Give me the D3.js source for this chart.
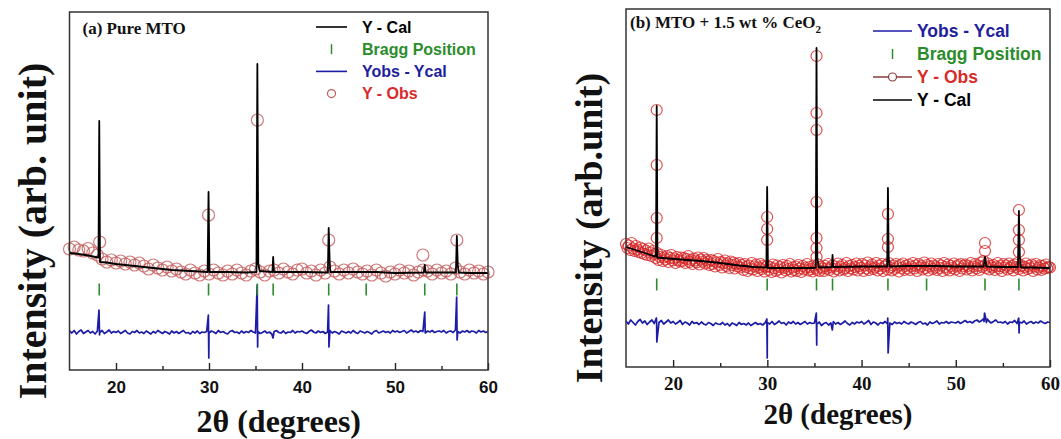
<!DOCTYPE html>
<html>
<head>
<meta charset="utf-8">
<script src="https://cdn.jsdelivr.net/npm/d3@7"></script>
<style>
  html, body { margin: 0; padding: 0; background: #fff; }
  svg { display: block; }
</style>
</head>
<body>
<svg id="chart" width="1061" height="439"></svg>
<script>
// ---------------- DATA ----------------
const xDomain = [15, 60];
const xMajorTicks = [20, 30, 40, 50, 60];
const xMinorTicks = [25, 35, 45, 55];
const xTickLabels = ["20", "30", "40", "50", "60"];

// Panel (a) Pure MTO
const calA = [[15.0,1170],[16.0,1160],[17.0,1145],[17.8,1130],[18.12,1125],[18.2,2490],[18.28,1080],[19.0,1075],[20.0,1060],[22.0,1040],[24.0,1020],[26.0,1000],[28.0,990],[29.85,980],[29.95,1780],[30.05,980],[32.0,980],[34.0,975],[35.1,980],[35.2,3060],[35.3,1060],[35.45,990],[36.82,980],[36.9,1130],[36.98,980],[40.0,980],[42.78,975],[42.87,1420],[42.97,1100],[43.05,980],[46.0,980],[48.0,980],[50.0,970],[53.1,975],[53.2,1050],[53.3,975],[56.55,975],[56.65,1340],[56.75,1050],[56.85,975],[58.0,970],[60.0,970]];
const obsStepA = 0.5;
const obsA = [1210,1230,1200,1190,1215,1170,1150,1110,1080,1100,1070,1090,1060,1080,1050,1070,1040,1010,1050,1020,1000,1030,990,1010,980,960,1000,970,950,990,960,1000,970,950,990,960,1000,970,950,990,1010,980,950,990,1000,970,1010,980,960,1000,1010,970,990,950,1000,970,1030,990,960,1000,970,1010,980,960,990,950,1000,970,940,980,960,1000,970,990,950,980,1000,990,960,1000,970,990,960,1020,980,960,1000,970,990,960,980];
const obsPeaksA = [[18.25,1280],[29.95,1550],[35.2,2500],[42.87,1300],[53.0,1150],[56.65,1300]];
const diffStepA = 0.25;
const diffA = [390,370,395,360,385,400,365,380,395,370,385,360,390,375,395,365,380,400,370,385,
375,390,365,380,395,370,360,385,375,395,370,380,365,390,375,360,385,370,395,380,
365,385,375,360,390,370,385,365,380,395,370,375,360,385,370,390,365,380,375,385,
370,390,380,365,395,375,385,370,360,385,395,375,380,365,390,370,385,375,395,380,
370,385,365,375,390,370,380,360,385,395,375,370,390,365,380,375,395,370,385,380,
390,375,365,385,400,380,370,390,375,385,365,380,395,370,385,375,360,390,380,370,
385,370,395,375,365,390,380,370,385,375,360,385,395,370,380,390,375,385,370,395,
380,390,375,385,395,370,385,400,380,390,375,395,385,370,390,380,395,375,385,390,
380,395,370,385,390,375,400,385,370,390,380,395,375,390,385,370,395,380,390,375,385];
const diffSpikesA = [[18.17,600],[18.23,350],[29.93,550],[29.98,120],[35.18,850],[35.23,230],[36.88,320],[42.85,650],[42.9,230],[53.2,580],[56.63,730],[56.68,300]];
const braggA = [18.2, 29.95, 35.2, 36.9, 42.87, 46.9, 53.2, 56.65];

// Panel (b) MTO + 1.5 wt % CeO2
const calB = [[15.0,1200],[16.0,1170],[17.0,1140],[17.9,1110],[18.18,1105],[18.26,2610],[18.34,1095],[19.5,1085],[21.5,1070],[23.0,1060],[25.0,1040],[27.0,1015],[28.5,1000],[29.9,995],[29.98,1800],[30.06,990],[32.0,990],[34.8,990],[35.14,995],[35.22,3190],[35.3,1100],[35.45,995],[36.85,1000],[36.92,1120],[36.99,1000],[40.0,1005],[42.72,1005],[42.8,1790],[42.88,1100],[42.96,1005],[45.0,1010],[47.5,1010],[50.0,1005],[52.95,1005],[53.1,1100],[53.25,1005],[55.0,1000],[56.6,1000],[56.7,1560],[56.8,1100],[56.9,995],[58.0,995],[60.0,990]];
const obsStepB = 0.15;
const obsB = [1230,1190,1215,1170,1240,1185,1160,1210,1175,1150,1195,1140,1180,1130,1165,1120,1185,1145,1110,1160,
1130,1090,1140,1070,1100,1120,1060,1095,1075,1110,1050,1090,1120,1065,1085,1040,1100,1070,1055,1095,
1060,1090,1040,1080,1110,1050,1070,1030,1085,1065,1045,1095,1025,1075,1055,1090,1035,1070,1050,1020,
1070,1030,1060,1005,1045,1080,1020,1050,995,1040,1065,1010,1035,990,1055,1020,1045,985,1030,1005,
1040,995,1020,970,1030,1000,960,1015,985,1040,975,1005,1025,960,995,1030,980,1010,955,1000,
1010,970,1000,950,1025,985,960,1015,975,1000,945,1020,990,965,1010,980,1030,955,995,970,
1005,960,1020,985,950,1010,975,995,1030,965,1000,980,955,1015,990,970,1025,960,1000,985,
960,1010,985,1030,970,995,1015,955,1005,980,1035,965,1000,1020,975,990,1040,960,1010,985,
1020,975,1000,1035,965,1010,990,1030,960,1015,985,1045,970,1005,1025,980,995,1040,965,1010,
985,1030,960,1005,1020,975,1040,995,965,1015,980,1030,1000,955,1020,990,1035,970,1010,985,
1025,970,1005,1040,985,1015,960,1030,995,1010,975,1045,990,1020,965,1005,1035,980,1015,995,
970,1030,990,1015,960,1040,1000,980,1025,965,1010,990,1035,975,1005,1020,960,1030,985,1010,
1025,975,1010,990,1040,965,1005,1030,985,1015,970,1045,1000,1060,1020,990,1035,975,1010,995,
1020,970,1005,1040,985,1010,960,1030,995,1015,975,1035,990,1010,965,1025,1000,1040,980,1005,
1015,965,1000,1035,980,1010,990,1025,960,1005,1030,975,995,1015,970,1010,985,1025,990,1000,995];
const obsPeaksB = [[18.26,2570],[18.26,2020],[18.26,1490],[18.26,1290],[29.98,1500],[29.98,1380],[29.98,1270],[35.22,3110],[35.22,2540],[35.22,2370],[35.22,1650],[35.22,1290],[35.22,1190],[35.22,1100],[42.8,1530],[42.8,1280],[42.8,1200],[53.1,1240],[53.1,1160],[56.7,1570],[56.7,1370],[56.7,1270],[56.7,1150]];
const diffStepB = 0.25;
const diffB = [460,430,470,445,420,455,475,440,460,425,450,470,435,455,445,465,430,450,470,440,
455,430,445,465,425,450,440,420,455,435,445,425,450,430,420,445,435,415,440,430,
425,445,420,435,410,440,430,415,445,425,435,420,440,415,430,445,425,435,420,440,
445,430,455,425,440,460,435,445,420,450,435,455,430,445,425,440,455,430,445,435,
440,425,450,415,435,445,420,440,455,430,445,425,440,460,435,420,445,430,450,440,
455,430,445,465,425,450,440,420,445,435,455,430,440,425,450,435,445,430,455,440,
430,450,440,425,445,455,430,440,420,450,435,445,460,430,445,440,455,435,450,445,
440,455,435,450,465,445,455,440,460,470,450,465,455,445,460,440,455,470,445,450,
440,455,430,450,445,465,435,450,440,460,430,445,455,435,450,440,460,445,435,450,445];
const diffSpikesB = [[18.22,490],[18.27,250],[29.95,480],[29.99,90],[35.2,540],[35.24,220],[36.9,370],[42.78,490],[42.82,140],[52.9,480],[53.05,540],[53.15,500],[53.35,480],[56.68,490],[56.72,340]];
const braggB = [18.26, 29.98, 35.22, 36.92, 42.8, 46.9, 53.1, 56.7];

// ---------------- DRAW ----------------
const svg = d3.select("#chart");
const yDomain = [0, 3580];
const SERIF = "'Liberation Serif', 'Times New Roman', Times, serif";
const SANS = "'Liberation Sans', Arial, Helvetica, sans-serif";

function grid(start, step, values) {
  return values.map((v, i) => [start + i * step, v]);
}

function drawPanel(p) {
  const x = d3.scaleLinear().domain(xDomain).range([p.left, p.right]);
  const y = d3.scaleLinear().domain(yDomain).range([p.bottom, p.top]);
  const g = svg.append("g");

  // observed circles
  const obs = grid(xDomain[0], p.obsStep, p.obs).concat(p.obsPeaks);
  g.append("g").selectAll("circle").data(obs).join("circle")
    .attr("cx", d => x(d[0])).attr("cy", d => y(d[1]))
    .attr("r", p.r).attr("fill", "none")
    .attr("stroke", p.obsColor).attr("stroke-width", p.obsWidth)
    .attr("stroke-opacity", p.obsOpacity);

  // calculated
  const line = d3.line().x(d => x(d[0])).y(d => y(d[1]));
  g.append("path").datum(p.cal).attr("d", line)
    .attr("fill", "none").attr("stroke", "#000").attr("stroke-width", 1.8)
    .attr("stroke-linejoin", "round");

  // difference
  const diff = grid(xDomain[0], p.diffStep, p.diff).concat(p.diffSpikes)
    .sort((a, b) => a[0] - b[0]);
  g.append("path").datum(diff).attr("d", line)
    .attr("fill", "none").attr("stroke", "#1c1ca6").attr("stroke-width", 1.7)
    .attr("stroke-linejoin", "round");

  // bragg ticks
  g.append("g").selectAll("line").data(p.bragg).join("line")
    .attr("x1", d => x(d)).attr("x2", d => x(d))
    .attr("y1", y(p.braggLevel) - 6).attr("y2", y(p.braggLevel) + 6)
    .attr("stroke", "#2e8b2e").attr("stroke-width", 1.6);

  // axes
  const axMajor = d3.axisBottom(x).tickValues(xMajorTicks)
    .tickFormat((d, i) => xTickLabels[i]).tickSize(-7).tickPadding(p.tickPad);
  const ax = g.append("g").attr("transform", `translate(0,${p.bottom})`).call(axMajor);
  ax.attr("font-family", null).attr("font-size", null);
  ax.select(".domain").remove();
  ax.selectAll("line").attr("stroke", "#222").attr("stroke-width", 1.4);
  ax.selectAll("text").style("font-family", p.tickFont).style("font-weight", "bold")
    .style("font-size", p.tickSize + "px").attr("fill", "#111");
  const axMinor = d3.axisBottom(x).tickValues(xMinorTicks).tickFormat("").tickSize(-4);
  const ax2 = g.append("g").attr("transform", `translate(0,${p.bottom})`).call(axMinor);
  ax2.select(".domain").remove();
  ax2.selectAll("line").attr("stroke", "#222").attr("stroke-width", 1.4);

  // frame
  g.append("rect").attr("x", p.left).attr("y", p.top)
    .attr("width", p.right - p.left).attr("height", p.bottom - p.top)
    .attr("fill", "none").attr("stroke", "#333").attr("stroke-width", 1.5);

  // axis titles
  g.append("text").attr("x", (p.left + p.right) / 2).attr("y", p.xTitleY)
    .attr("text-anchor", "middle").style("font-family", SERIF)
    .style("font-weight", "bold").style("font-size", p.xTitleSize + "px").attr("fill", "#111")
    .text("2θ (degrees)");
  g.append("text").attr("transform", `translate(${p.yTitleX},${p.yTitleY}) rotate(-90)`)
    .attr("text-anchor", "middle").style("font-family", SERIF)
    .style("font-weight", "bold").style("font-size", p.yTitleSize + "px").attr("fill", "#111")
    .text(p.yTitle);

  // panel title
  const t = g.append("text").attr("x", p.left + p.titleDx).attr("y", p.top + p.titleDy)
    .style("font-family", SERIF).style("font-weight", "bold").style("font-size", "17px")
    .attr("fill", "#111");
  p.title.forEach(seg => {
    const ts = t.append("tspan").text(seg.t);
    if (seg.sub) ts.style("font-size", "11px").attr("dy", 5);
  });

  // legend
  const lg = g.append("g");
  p.legend.forEach((it, i) => {
    const cy = p.legY + i * p.legGap;
    const lx0 = p.legX, lx1 = p.legX + p.legLen, cx = (lx0 + lx1) / 2;
    if (it.kind === "line" || it.kind === "lineCircle") {
      lg.append("line").attr("x1", lx0).attr("x2", lx1).attr("y1", cy).attr("y2", cy)
        .attr("stroke", it.lineColor).attr("stroke-width", 1.6);
    }
    if (it.kind === "tick") {
      lg.append("line").attr("x1", cx).attr("x2", cx).attr("y1", cy - 5).attr("y2", cy + 5)
        .attr("stroke", "#2e8b2e").attr("stroke-width", 1.5);
    }
    if (it.kind === "circle" || it.kind === "lineCircle") {
      lg.append("circle").attr("cx", cx).attr("cy", cy).attr("r", 4)
        .attr("fill", "#fff").attr("stroke", it.lineColor).attr("stroke-width", 1.2);
    }
    lg.append("text").attr("x", p.legTextX).attr("y", cy).attr("dy", "0.36em")
      .style("font-family", SANS).style("font-weight", "bold")
      .style("font-size", p.legSize + "px").attr("fill", it.color).text(it.label);
  });
}

drawPanel({
  left: 69.5, right: 488, top: 12, bottom: 370,
  obs: obsA, obsStep: obsStepA, obsPeaks: obsPeaksA, r: 6,
  obsColor: "#c25a5a", obsWidth: 1.2, obsOpacity: 0.8,
  cal: calA, diff: diffA, diffStep: diffStepA, diffSpikes: diffSpikesA,
  bragg: braggA, braggLevel: 805,
  tickFont: SANS, tickSize: 17, tickPad: 11,
  xTitleY: 432, xTitleSize: 32,
  yTitle: "Intensity (arb. unit)", yTitleX: 46, yTitleY: 231, yTitleSize: 40,
  title: [{t: "(a) Pure MTO"}], titleDx: 13, titleDy: 22,
  legX: 316, legLen: 31, legTextX: 362, legY: 27, legGap: 22.2, legSize: 16,
  legend: [
    {kind: "line", lineColor: "#000", color: "#000", label: "Y - Cal"},
    {kind: "tick", color: "#2b8c2b", label: "Bragg Position"},
    {kind: "line", lineColor: "#1c1ca6", color: "#1e1e9e", label: "Yobs - Ycal"},
    {kind: "circle", lineColor: "#c25a5a", color: "#d92a2a", label: "Y - Obs"}
  ]
});

drawPanel({
  left: 626, right: 1050, top: 9, bottom: 367,
  obs: obsB, obsStep: obsStepB, obsPeaks: obsPeaksB, r: 5.5,
  obsColor: "#d42424", obsWidth: 1.2, obsOpacity: 0.8,
  cal: calB, diff: diffB, diffStep: diffStepB, diffSpikes: diffSpikesB,
  bragg: braggB, braggLevel: 825,
  tickFont: SERIF, tickSize: 19, tickPad: 10,
  xTitleY: 424, xTitleSize: 29,
  yTitle: "Intensity (arb.unit)", yTitleX: 602, yTitleY: 228, yTitleSize: 38,
  title: [{t: "(b) MTO + 1.5 wt % CeO"}, {t: "2", sub: true}], titleDx: 4, titleDy: 19,
  legX: 873, legLen: 39, legTextX: 917, legY: 31, legGap: 23, legSize: 17.5,
  legend: [
    {kind: "line", lineColor: "#1c1ca6", color: "#1e1e9e", label: "Yobs - Ycal"},
    {kind: "tick", color: "#2b8c2b", label: "Bragg Position"},
    {kind: "lineCircle", lineColor: "#8a3a3a", color: "#d92a2a", label: "Y - Obs"},
    {kind: "line", lineColor: "#000", color: "#000", label: "Y - Cal"}
  ]
});
</script>
</body>
</html>
